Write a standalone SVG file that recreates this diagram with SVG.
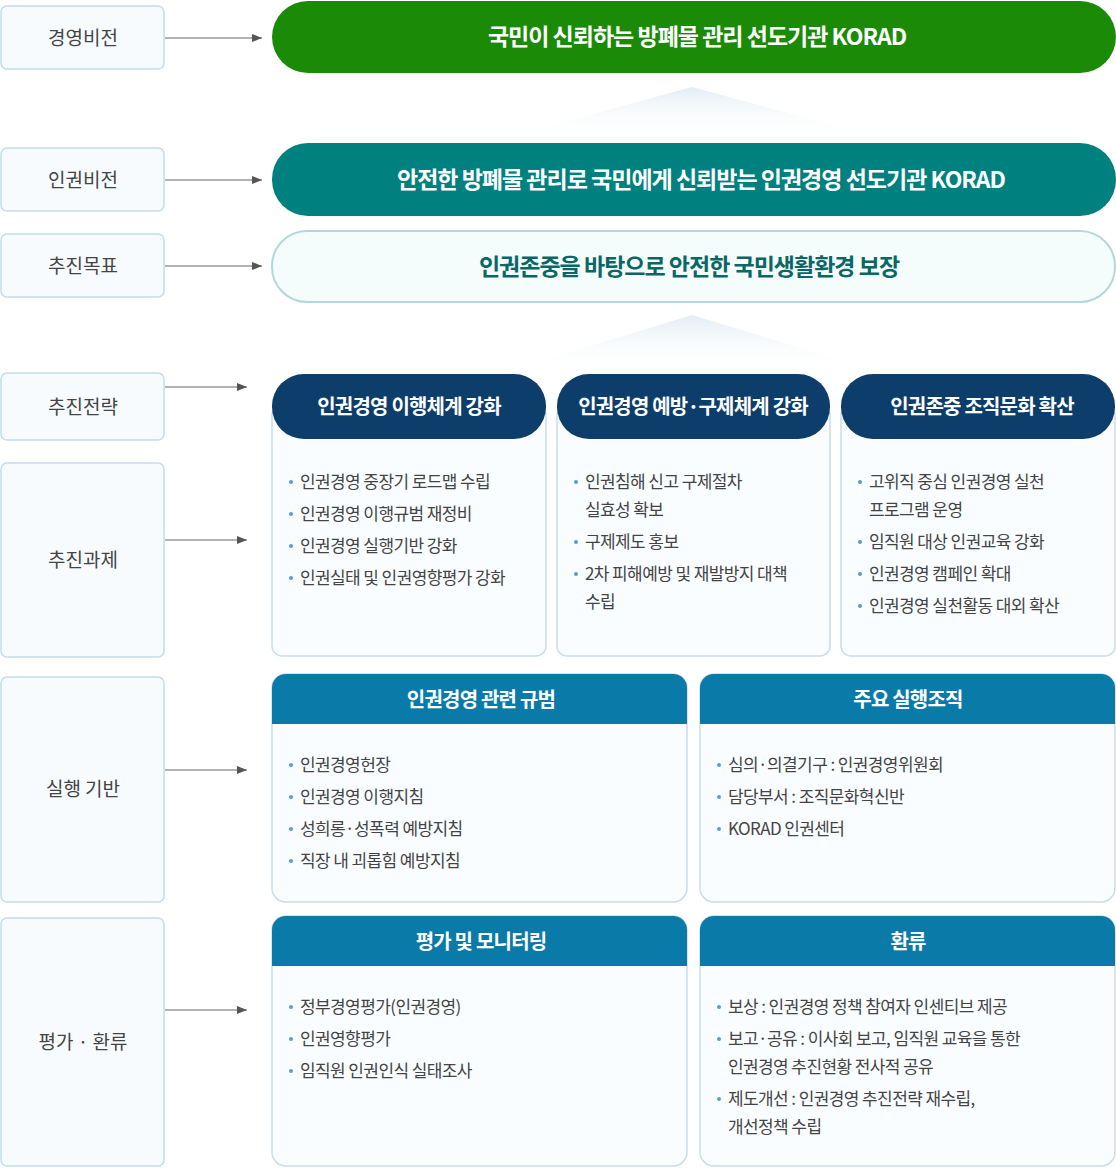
<svg xmlns="http://www.w3.org/2000/svg" width="1116" height="1168" viewBox="0 0 1116 1168">
<style>
text{font-family:"Noto Sans CJK KR","Noto Sans",sans-serif}
.lb rect{fill:#f7fbfe;stroke:#c3dcec;stroke-width:1.5}
.lb text{font-size:19px;fill:#444;text-anchor:middle}
.ar{stroke:#666;stroke-width:1.2;fill:none;marker-end:url(#ah)}
.pt{font-size:23px;font-weight:bold;text-anchor:middle;letter-spacing:-1px}
.hd{font-size:20px;font-weight:bold;fill:#fff;text-anchor:middle;letter-spacing:-0.8px}
.bx{fill:#fafdff;stroke:#c9dde9;stroke-width:1.5}
.it{font-size:17px;fill:#444;letter-spacing:-0.6px}
.bu{fill:#5b9bd5}
</style>
<defs>
<marker id="ah" markerWidth="10" markerHeight="8" refX="10" refY="4" orient="auto" markerUnits="userSpaceOnUse"><path d="M0,0L10,4L0,8z" fill="#555"/></marker>
<linearGradient id="tg" x1="0" y1="0" x2="0" y2="1"><stop offset="0" stop-color="#e3edf5"/><stop offset="1" stop-color="#ffffff" stop-opacity="0"/></linearGradient>
</defs>
<g id="lbl1" class="lb"><rect x="1" y="6" width="163" height="63" rx="6"/><text x="83" y="45">경영비전</text></g>
<g id="lbl2" class="lb"><rect x="1" y="148" width="163" height="63" rx="6"/><text x="83" y="187">인권비전</text></g>
<g id="lbl3" class="lb"><rect x="1" y="234" width="163" height="63" rx="6"/><text x="83" y="273">추진목표</text></g>
<g id="lbl4" class="lb"><rect x="1" y="373" width="163" height="67" rx="6"/><text x="83" y="414">추진전략</text></g>
<g id="lbl5" class="lb"><rect x="1" y="463" width="163" height="194" rx="6"/><text x="83" y="567">추진과제</text></g>
<g id="lbl6" class="lb"><rect x="1" y="677" width="163" height="225" rx="6"/><text x="83" y="796">실행 기반</text></g>
<g id="lbl7" class="lb"><rect x="1" y="918" width="163" height="248" rx="6"/><text x="83" y="1049">평가 · 환류</text></g>
<g id="connectors">
<line class="ar" x1="165" y1="38" x2="262" y2="38"/>
<line class="ar" x1="165" y1="180" x2="262" y2="180"/>
<line class="ar" x1="165" y1="266" x2="262" y2="266"/>
<line class="ar" x1="165" y1="387" x2="247" y2="387"/>
<line class="ar" x1="165" y1="540" x2="247" y2="540"/>
<line class="ar" x1="165" y1="770" x2="247" y2="770"/>
<line class="ar" x1="165" y1="1010" x2="247" y2="1010"/>
</g>
<polygon points="692,87 505,138 880,138" fill="url(#tg)"/>
<polygon points="692,315 505,372 880,372" fill="url(#tg)"/>
<g id="vision"><rect x="272" y="1" width="844" height="72" rx="36" fill="#1b8a06"/><text class="pt" x="697" y="45" fill="#fff">국민이 신뢰하는 방폐물 관리 선도기관 KORAD</text></g>
<g id="hrvision"><rect x="272" y="143" width="844" height="73" rx="36" fill="#008180"/><text class="pt" x="701" y="188" fill="#fff">안전한 방폐물 관리로 국민에게 신뢰받는 인권경영 선도기관 KORAD</text></g>
<g id="goal"><rect x="272" y="231" width="843" height="71" rx="35" fill="#f5fcfc" stroke="#b3d8d9" stroke-width="2"/><text class="pt" x="689" y="275" fill="#0b6666">인권존중을 바탕으로 안전한 국민생활환경 보장</text></g>
<g id="s1"><rect class="bx" x="272" y="405" width="274" height="251" rx="10"/><rect x="272" y="374" width="274" height="65" rx="32" fill="#0d3d6a"/><text class="hd" x="409" y="414">인권경영 이행체계 강화</text>
<g class="it"><text x="300" y="488">인권경영 중장기 로드맵 수립</text><text x="300" y="520">인권경영 이행규범 재정비</text><text x="300" y="552">인권경영 실행기반 강화</text><text x="300" y="584">인권실태 및 인권영향평가 강화</text></g>
<g class="bu"><circle cx="291" cy="482" r="2"/><circle cx="291" cy="514" r="2"/><circle cx="291" cy="546" r="2"/><circle cx="291" cy="578" r="2"/></g></g>
<g id="s2"><rect class="bx" x="557" y="405" width="273" height="251" rx="10"/><rect x="557" y="374" width="273" height="65" rx="32" fill="#0d3d6a"/><text class="hd" x="693" y="414">인권경영 예방·구제체계 강화</text>
<g class="it"><text x="585" y="488">인권침해 신고 구제절차</text><text x="585" y="516">실효성 확보</text><text x="585" y="548">구제제도 홍보</text><text x="585" y="580">2차 피해예방 및 재발방지 대책</text><text x="585" y="608">수립</text></g>
<g class="bu"><circle cx="576" cy="482" r="2"/><circle cx="576" cy="542" r="2"/><circle cx="576" cy="574" r="2"/></g></g>
<g id="s3"><rect class="bx" x="841" y="405" width="274" height="251" rx="10"/><rect x="841" y="374" width="274" height="65" rx="32" fill="#0d3d6a"/><text class="hd" x="982" y="414">인권존중 조직문화 확산</text>
<g class="it"><text x="869" y="488">고위직 중심 인권경영 실천</text><text x="869" y="516">프로그램 운영</text><text x="869" y="548">임직원 대상 인권교육 강화</text><text x="869" y="580">인권경영 캠페인 확대</text><text x="869" y="612">인권경영 실천활동 대외 확산</text></g>
<g class="bu"><circle cx="860" cy="482" r="2"/><circle cx="860" cy="542" r="2"/><circle cx="860" cy="574" r="2"/><circle cx="860" cy="606" r="2"/></g></g>
<g id="b1"><rect class="bx" x="272" y="674" width="415" height="228" rx="14"/><path d="M272,724V688a14,14 0 0 1 14-14H673a14,14 0 0 1 14,14V724z" fill="#0a7aa9"/><text class="hd" x="481" y="707">인권경영 관련 규범</text>
<g class="it"><text x="300" y="771">인권경영헌장</text><text x="300" y="803">인권경영 이행지침</text><text x="300" y="835">성희롱·성폭력 예방지침</text><text x="300" y="867">직장 내 괴롭힘 예방지침</text></g>
<g class="bu"><circle cx="291" cy="765" r="2"/><circle cx="291" cy="797" r="2"/><circle cx="291" cy="829" r="2"/><circle cx="291" cy="861" r="2"/></g></g>
<g id="b2"><rect class="bx" x="700" y="674" width="415" height="228" rx="14"/><path d="M700,724V688a14,14 0 0 1 14-14H1101a14,14 0 0 1 14,14V724z" fill="#0a7aa9"/><text class="hd" x="908" y="707">주요 실행조직</text>
<g class="it"><text x="728" y="771">심의·의결기구 : 인권경영위원회</text><text x="728" y="803">담당부서 : 조직문화혁신반</text><text x="728" y="835">KORAD 인권센터</text></g>
<g class="bu"><circle cx="719" cy="765" r="2"/><circle cx="719" cy="797" r="2"/><circle cx="719" cy="829" r="2"/></g></g>
<g id="b3"><rect class="bx" x="272" y="916" width="415" height="250" rx="14"/><path d="M272,966V930a14,14 0 0 1 14-14H673a14,14 0 0 1 14,14V966z" fill="#0a7aa9"/><text class="hd" x="481" y="949">평가 및 모니터링</text>
<g class="it"><text x="300" y="1013">정부경영평가(인권경영)</text><text x="300" y="1045">인권영향평가</text><text x="300" y="1077">임직원 인권인식 실태조사</text></g>
<g class="bu"><circle cx="291" cy="1007" r="2"/><circle cx="291" cy="1039" r="2"/><circle cx="291" cy="1071" r="2"/></g></g>
<g id="b4"><rect class="bx" x="700" y="916" width="415" height="250" rx="14"/><path d="M700,966V930a14,14 0 0 1 14-14H1101a14,14 0 0 1 14,14V966z" fill="#0a7aa9"/><text class="hd" x="908" y="949">환류</text>
<g class="it"><text x="728" y="1013">보상 : 인권경영 정책 참여자 인센티브 제공</text><text x="728" y="1045">보고·공유 : 이사회 보고, 임직원 교육을 통한</text><text x="728" y="1073">인권경영 추진현황 전사적 공유</text><text x="728" y="1105">제도개선 : 인권경영 추진전략 재수립,</text><text x="728" y="1133">개선정책 수립</text></g>
<g class="bu"><circle cx="719" cy="1007" r="2"/><circle cx="719" cy="1039" r="2"/><circle cx="719" cy="1099" r="2"/></g></g>
</svg>
